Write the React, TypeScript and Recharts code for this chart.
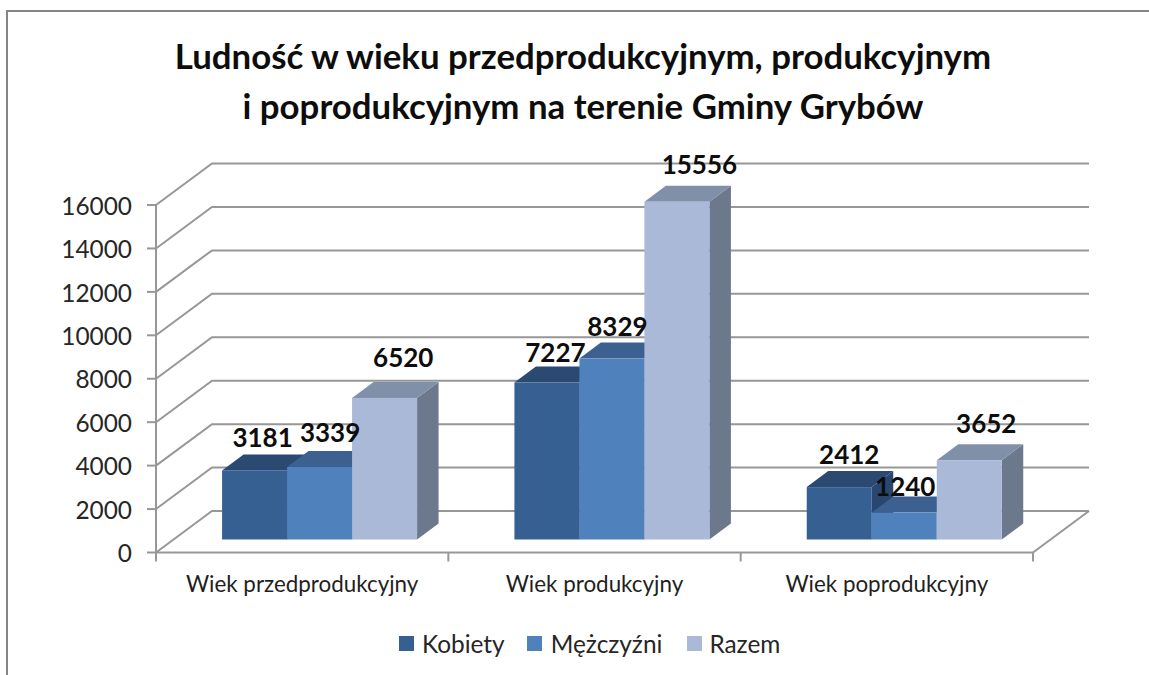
import { Bar, BarChart, CartesianGrid, LabelList, Legend, XAxis, YAxis } from "recharts"

const categories = ["Wiek przedprodukcyjny", "Wiek produkcyjny", "Wiek poprodukcyjny"]
const kobiety = [3181, 7227, 2412]
const mezczyzni = [3339, 8329, 1240]
const razem = [6520, 15556, 3652]
const yTicks = [0, 2000, 4000, 6000, 8000, 10000, 12000, 14000, 16000]

const chartData = categories.map((name, i) => ({
  name,
  kobiety: kobiety[i],
  mezczyzni: mezczyzni[i],
  razem: razem[i],
}))

const FONT = "Lato, sans-serif"
const GRID = "#979797"

// 3d look: depth of the wall, and how far bars sit off the front axis
const WALL_X = 56
const WALL_Y = 41.5
const BAR_X = 17.4
const BAR_Y = 13
const DEPTH_X = 21.5
const DEPTH_Y = 16
const BAND = 292.3

const series = [
  { key: "kobiety", label: "Kobiety", front: "#376092", top: "#2a4a72", side: "#294670", gap: 8, after: 22, nudge: [[8, -33], [8.5, -31], [10, -33]] },
  { key: "mezczyzni", label: "Mężczyźni", front: "#4f81bd", top: "#3c6090", side: "#3b608e", gap: 9, after: 25, nudge: [[10.5, -35], [5.5, -33], [1, -27]] },
  { key: "razem", label: "Razem", front: "#aab9d8", top: "#8090a8", side: "#6c788c", gap: 7, after: 0, nudge: [[18.7, -41], [22.5, -38], [17, -37]] },
]

const makeBox = (s: (typeof series)[number]) => (props: any) => {
  const x = props.x + BAR_X
  const y = props.y - BAR_Y
  const w = props.width
  const h = props.height
  return (
    <g>
      <polygon
        points={`${x + w},${y} ${x + w + DEPTH_X},${y - DEPTH_Y} ${x + w + DEPTH_X},${y + h - DEPTH_Y} ${x + w},${y + h}`}
        fill={s.side}
      />
      <polygon
        points={`${x},${y} ${x + DEPTH_X},${y - DEPTH_Y} ${x + w + DEPTH_X},${y - DEPTH_Y} ${x + w},${y}`}
        fill={s.top}
      />
      <rect x={x} y={y} width={w} height={h} fill={s.front} />
    </g>
  )
}

const makeLabel = (s: (typeof series)[number]) => (props: any) => {
  const [dx, dy] = s.nudge[props.index]
  return (
    <text
      x={props.x + props.width / 2 + BAR_X + dx}
      y={props.y - BAR_Y + dy}
      textAnchor="middle"
      dominantBaseline="central"
      fontFamily={FONT}
      fontWeight={700}
      fontSize={26}
      fill="#0d0d0d"
    >
      {props.value}
    </text>
  )
}

const GridLine = (props: any) => {
  const { x1, x2, y1, index } = props
  const isFloor = index === 0 || y1 > 550
  return (
    <g>
      <polyline
        points={`${x1},${y1} ${x1 + WALL_X},${y1 - WALL_Y} ${x2 + WALL_X},${y1 - WALL_Y}`}
        fill="none"
        stroke={GRID}
        strokeWidth={2}
      />
      {isFloor && (
        <line x1={x2} y1={y1} x2={x2 + WALL_X} y2={y1 - WALL_Y} stroke={GRID} strokeWidth={2} />
      )}
    </g>
  )
}

const CategoryTick = (props: any) => {
  const { x, y, index, payload } = props
  const left = x - BAND / 2
  const right = x + BAND / 2
  return (
    <g>
      <line x1={left} y1={y - 8} x2={left} y2={y + 1} stroke={GRID} strokeWidth={2} />
      {index === categories.length - 1 && (
        <line x1={right} y1={y - 8} x2={right} y2={y + 1} stroke={GRID} strokeWidth={2} />
      )}
      <text x={x} y={y + 23} textAnchor="middle" dominantBaseline="central" fontFamily={FONT} fontSize={22.4} fill="#1f1f1f">
        {payload.value}
      </text>
    </g>
  )
}

const LegendBox = () => (
  <div style={{ display: "flex", fontFamily: FONT, fontSize: 24.4, color: "#262626", height: 30, alignItems: "center" }}>
    {series.map((s) => (
      <div key={s.key} style={{ display: "flex", alignItems: "center", marginRight: s.after }}>
        <span style={{ width: 15, height: 15, background: s.front, marginRight: s.gap, display: "inline-block" }} />
        {s.label}
      </div>
    ))}
  </div>
)

export default function App() {
  return (
    <div style={{ position: "absolute", left: 0, top: 0, width: 1149, height: 675, overflow: "hidden", background: "#fff" }}>
      <div style={{ position: "absolute", left: 6, top: 10, right: 0, bottom: 0, borderLeft: "2px solid #868686", borderTop: "2px solid #868686" }} />
      <div
        style={{
          position: "absolute",
          left: 0,
          width: 1166,
          top: 31,
          textAlign: "center",
          fontFamily: FONT,
          fontWeight: 700,
          fontSize: 34.8,
          lineHeight: "50px",
          color: "#0d0d0d",
        }}
      >
        Ludność w wieku przedprodukcyjnym, produkcyjnym
        <br />
        i poprodukcyjnym na terenie Gminy Grybów
      </div>
      <BarChart
        width={1149}
        height={675}
        data={chartData}
        barGap={0}
        barCategoryGap="16.65%"
        margin={{ top: 205, right: 116, bottom: 62.5, left: 0 }}
      >
        <CartesianGrid vertical={false} horizontal={GridLine} />
        <XAxis
          dataKey="name"
          interval={0}
          height={30}
          tickLine={false}
          axisLine={{ stroke: GRID, strokeWidth: 2 }}
          tick={CategoryTick}
        />
        <YAxis
          width={156}
          domain={[0, 16000]}
          ticks={yTicks}
          interval={0}
          tickSize={9}
          tickMargin={15}
          axisLine={{ stroke: GRID, strokeWidth: 2 }}
          tickLine={{ stroke: GRID, strokeWidth: 2 }}
          tick={{ fontFamily: FONT, fontSize: 24.4, fill: "#262626", dy: 1 }}
        />
        <Legend
          content={LegendBox}
          wrapperStyle={{ position: "absolute", left: 399, top: 628, width: "auto", height: 30 }}
        />
        {series.map((s) => (
          <Bar key={s.key} dataKey={s.key} fill={s.front} shape={makeBox(s)} isAnimationActive={false}>
            <LabelList dataKey={s.key} content={makeLabel(s)} />
          </Bar>
        ))}
      </BarChart>
    </div>
  )
}
